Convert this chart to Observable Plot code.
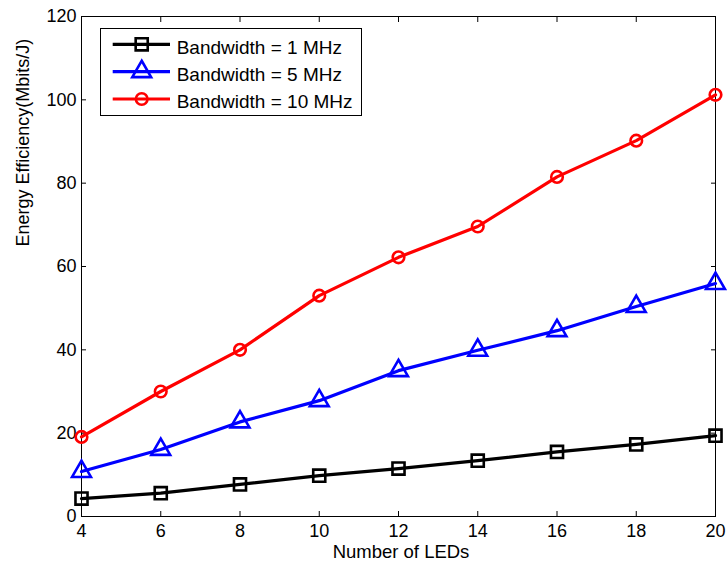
<!DOCTYPE html>
<html><head><meta charset="utf-8">
<script src="https://cdn.jsdelivr.net/npm/d3@7"></script>
<script src="https://cdn.jsdelivr.net/npm/@observablehq/plot@0.6"></script>
<style>
body{margin:0;background:#fff;font-family:"Liberation Sans",Arial,sans-serif;}
#wrap{position:relative;width:727px;height:567px;}
#legend{position:absolute;left:0;top:0;}
</style></head><body><div id="wrap"></div>
<script>
const leds = [4, 6, 8, 10, 12, 14, 16, 18, 20];
const bw1 = [4.3, 5.6, 7.7, 9.8, 11.5, 13.4, 15.5, 17.3, 19.4];
const bw5 = [10.8, 16.1, 22.7, 27.8, 35.0, 39.9, 44.6, 50.4, 55.9];
const bw10 = [19.1, 30.0, 40.0, 53.0, 62.2, 69.6, 81.5, 90.2, 101.2];
const seriesNames = ["Bandwidth = 1 MHz", "Bandwidth = 5 MHz", "Bandwidth = 10 MHz"];
const seriesValues = [bw1, bw5, bw10];
const seriesColors = ["#000000", "#0000ff", "#ff0000"];
const seriesSymbols = ["square", "triangle", "circle"];
const seriesRadius = [6.8, 7.0, 5.8];
const xTicks = [4, 6, 8, 10, 12, 14, 16, 18, 20];
const yTicks = [0, 20, 40, 60, 80, 100, 120];
const xLabel = "Number of LEDs";
const yLabel = "Energy Efficiency(Mbits/J)";

const font = '"Liberation Sans", Arial, sans-serif';

const seriesMarks = seriesNames.flatMap((name, s) => {
  const rows = leds.map((x, i) => ({x, y: seriesValues[s][i]}));
  return [
    Plot.line(rows, {x: "x", y: "y", stroke: seriesColors[s], strokeWidth: 3.2}),
    Plot.dot(rows, {x: "x", y: "y", stroke: seriesColors[s], fill: "none", symbol: seriesSymbols[s], r: seriesRadius[s], strokeWidth: 2.6})
  ];
});

const chart = Plot.plot({
  width: 727, height: 567,
  marginLeft: 81, marginRight: 12, marginTop: 16, marginBottom: 51,
  x: {domain: [4, 20], label: null},
  y: {domain: [0, 120], label: null},
  style: {fontFamily: font, fontSize: "18px", color: "#000", background: "#fff", overflow: "visible"},
  marks: [
    Plot.frame({stroke: "#000"}),
    Plot.axisX(xTicks, {anchor: "bottom", tickSize: -5, tickPadding: 13, label: null, fontSize: 18}),
    Plot.axisX(xTicks, {anchor: "top", tickSize: -5, fill: "none", label: null}),
    Plot.axisY(yTicks, {anchor: "left", tickSize: -5, tickPadding: 10, label: null, fontSize: 18}),
    Plot.axisY(yTicks, {anchor: "right", tickSize: -5, fill: "none", label: null}),
    ...seriesMarks,
    Plot.text([xLabel], {text: d => d, frameAnchor: "bottom", lineAnchor: "top", dy: 28, dx: 2.5, fontSize: 18.5}),
    Plot.text([yLabel], {text: d => d, frameAnchor: "left", rotate: -90, dx: -58, dy: -20, fontSize: 18})
  ]
});
document.getElementById("wrap").appendChild(chart);

// Legend overlay
const lg = d3.select("#wrap").append("svg").attr("id", "legend")
  .attr("width", 727).attr("height", 567)
  .style("position", "absolute").style("left", "0").style("top", "0")
  .style("font-family", font);
lg.append("rect").attr("x", 100.5).attr("y", 28.5).attr("width", 261).attr("height", 87)
  .attr("fill", "#fff").attr("stroke", "#000").attr("stroke-width", 1);
const symMap = {square: d3.symbolSquare, triangle: d3.symbolTriangle, circle: d3.symbolCircle};
seriesNames.forEach((name, s) => {
  const cy = 44.3 + s * 27.35;
  lg.append("line").attr("x1", 112.7).attr("x2", 170).attr("y1", cy).attr("y2", cy)
    .attr("stroke", seriesColors[s]).attr("stroke-width", 3.2);
  lg.append("path").attr("transform", `translate(141.7,${cy})`)
    .attr("d", d3.symbol(symMap[seriesSymbols[s]], Math.PI * seriesRadius[s] ** 2)())
    .attr("fill", "none").attr("stroke", seriesColors[s]).attr("stroke-width", 2.6);
  lg.append("text").attr("x", 176.7).attr("y", cy + 9.2).attr("font-size", 19).attr("fill", "#000").text(name);
});
</script>
</body></html>
